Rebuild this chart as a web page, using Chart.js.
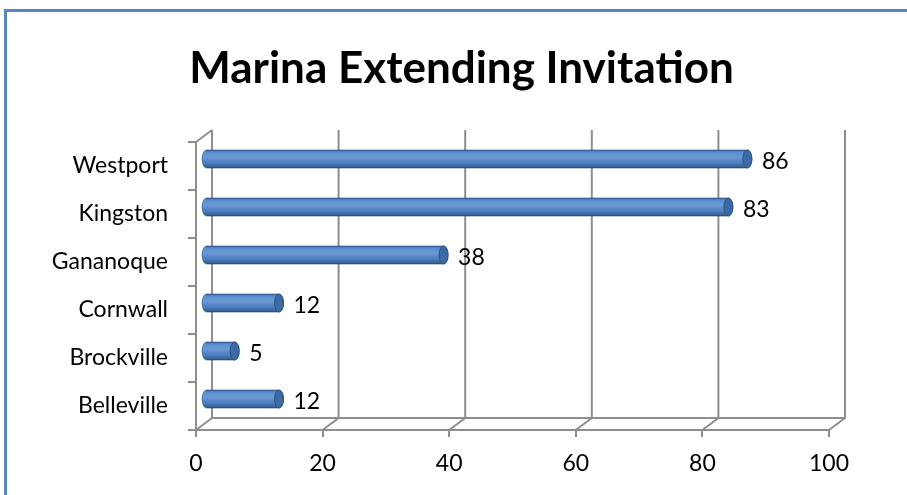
<!DOCTYPE html>
<html>
<head>
<meta charset="utf-8">
<script src="https://cdn.jsdelivr.net/npm/chart.js@4.4.1/dist/chart.umd.min.js"></script>
<style>
html, body { margin: 0; padding: 0; background: #fff; overflow: hidden; width: 907px; height: 495px; }
.edge { position: absolute; background: #5a86c0; }
#edgeTop { left: 4px; top: 9px; width: 903px; height: 3px; }
#edgeLeft { left: 4px; top: 9px; width: 3px; height: 486px; }
canvas { position: absolute; left: 0; top: 0; }
</style>
</head>
<body>
<div class="edge" id="edgeTop"></div>
<div class="edge" id="edgeLeft"></div>
<canvas id="c" width="907" height="495"></canvas>
<script>
var cities = ["Westport", "Kingston", "Gananoque", "Cornwall", "Brockville", "Belleville"];
var invitations = [86, 83, 38, 12, 5, 12];
var xTicks = [0, 20, 40, 60, 80, 100];

var FONT = "Lato, 'Open Sans', sans-serif";
var GRID = '#8e8e8e';
// depth of the 3d box (back wall offset)
var DX = 16, DY = -12;

var wallPlugin = {
    id: 'wall3d',
    beforeDatasetsDraw: function(chart) {
        var ctx = chart.ctx, xs = chart.scales.x, a = chart.chartArea;
        ctx.save();
        ctx.strokeStyle = GRID;
        ctx.lineWidth = 2;
        ctx.beginPath();
        xTicks.forEach(function(v) {
            var x = xs.getPixelForValue(v);
            ctx.moveTo(x, a.bottom);
            ctx.lineTo(x + DX, a.bottom + DY);
            ctx.lineTo(x + DX, a.top + DY);
        });
        ctx.moveTo(a.left + DX, a.bottom + DY);
        ctx.lineTo(a.right + DX, a.bottom + DY);
        ctx.moveTo(a.left, a.top);
        ctx.lineTo(a.left + DX, a.top + DY);
        ctx.stroke();
        ctx.restore();
    }
};

var cylinderPlugin = {
    id: 'cylinders',
    afterDatasetsDraw: function(chart) {
        var ctx = chart.ctx;
        var meta = chart.getDatasetMeta(0);
        ctx.save();
        meta.data.forEach(function(bar, i) {
            var p = bar.getProps(['x', 'y', 'base', 'height'], true);
            var ry = p.height / 2, rx = 4.5;
            var yc = p.y - 7;
            var x0 = p.base + 5 + rx;
            var x1 = p.x + 7;

            var g = ctx.createLinearGradient(0, yc - ry, 0, yc + ry);
            g.addColorStop(0, '#3a659c');
            g.addColorStop(0.12, '#5b8dcc');
            g.addColorStop(0.4, '#6a9bd8');
            g.addColorStop(0.75, '#4a7cbb');
            g.addColorStop(1, '#2f5688');

            ctx.beginPath();
            ctx.ellipse(x0, yc, rx, ry, 0, Math.PI / 2, Math.PI * 1.5);
            ctx.lineTo(x1, yc - ry);
            ctx.ellipse(x1, yc, rx, ry, 0, -Math.PI / 2, Math.PI / 2);
            ctx.closePath();
            ctx.fillStyle = g;
            ctx.fill();
            ctx.strokeStyle = 'rgba(40,75,125,0.6)';
            ctx.lineWidth = 1;
            ctx.stroke();

            // end cap
            ctx.beginPath();
            ctx.ellipse(x1, yc, rx, ry, 0, 0, Math.PI * 2);
            ctx.fillStyle = '#3d6aa4';
            ctx.fill();
            ctx.strokeStyle = '#2c5083';
            ctx.stroke();

            // value label
            ctx.fillStyle = '#000';
            ctx.font = '23px ' + FONT;
            ctx.textBaseline = 'middle';
            ctx.textAlign = 'left';
            ctx.fillText(String(invitations[i]), x1 + rx + 10, yc + 3);
        });
        ctx.restore();
    }
};

new Chart(document.getElementById('c'), {
    type: 'bar',
    data: {
        labels: cities,
        datasets: [{
            data: invitations,
            backgroundColor: 'rgba(0,0,0,0)',
            borderWidth: 0,
            barThickness: 18
        }]
    },
    options: {
        indexAxis: 'y',
        responsive: false,
        animation: false,
        layout: { padding: { left: 16, right: 0, top: 0, bottom: 0 } },
        plugins: {
            legend: { display: false },
            tooltip: { enabled: false },
            title: {
                display: true,
                text: 'Marina Extending Invitation',
                color: '#000',
                font: { family: FONT, size: 44, weight: 'bold', lineHeight: 1.2 },
                padding: { top: 42, bottom: 47.2 }
            }
        },
        scales: {
            x: {
                min: 0, max: 100,
                afterFit: function(s) { s.height = 65; },
                ticks: { stepSize: 20, color: '#000', padding: 13, font: { family: FONT, size: 23 } },
                grid: { drawOnChartArea: false, drawTicks: true, tickLength: 7, color: GRID, lineWidth: 2 },
                border: { display: true, color: GRID, width: 2 }
            },
            y: {
                afterFit: function(s) { s.width = 180; },
                ticks: { color: '#000', padding: 20, font: { family: FONT, size: 23 } },
                grid: { drawOnChartArea: false, drawTicks: true, tickLength: 8, color: GRID, lineWidth: 2 },
                border: { display: true, color: GRID, width: 2 }
            },
            // empty strip on the right so the plot ends at 100 where the reference does
            yRight: {
                type: 'category',
                position: 'right',
                afterFit: function(s) { s.width = 78; },
                ticks: { display: false },
                grid: { display: false },
                border: { display: false }
            }
        }
    },
    plugins: [wallPlugin, cylinderPlugin]
});
</script>
</body>
</html>
